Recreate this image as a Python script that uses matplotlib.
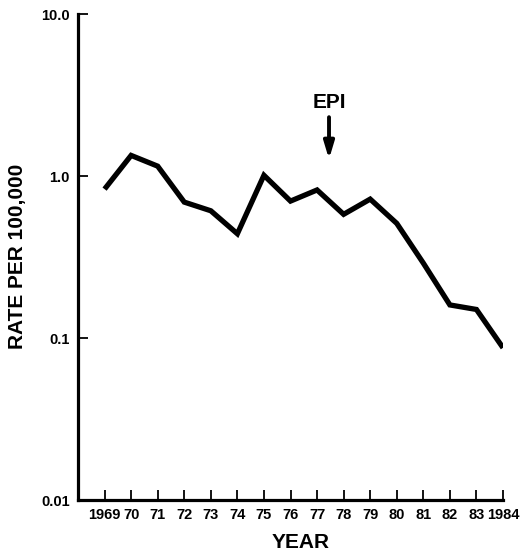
import matplotlib
matplotlib.use("Agg")
import matplotlib.pyplot as plt

years = [1969, 1970, 1971, 1972, 1973, 1974, 1975, 1976, 1977, 1978, 1979, 1980, 1981, 1982, 1983, 1984]
rates = [0.83, 1.34, 1.15, 0.69, 0.61, 0.44, 1.01, 0.70, 0.82, 0.58, 0.72, 0.51, 0.29, 0.16, 0.15, 0.087]
xtick_labels = ["1969", "70", "71", "72", "73", "74", "75", "76", "77", "78", "79", "80", "81", "82", "83", "1984"]
ytick_values = [0.01, 0.1, 1.0, 10.0]
ytick_labels = ["0.01", "0.1", "1.0", "10.0"]
epi_year = 1977.45

plt.rcParams['font.family'] = ['Liberation Sans', 'DejaVu Sans']
plt.rcParams['font.weight'] = 'bold'

fig = plt.figure(figsize=(5.23, 5.57), dpi=100)
W, H = 523, 557
ax = fig.add_axes([78 / W, 1 - 500 / H, (503 - 78) / W, (500 - 14) / H])

ax.plot(years, rates, color='black', lw=3.8, solid_joinstyle='miter', solid_capstyle='butt')

ax.set_yscale('log')
ax.set_ylim(0.01, 10)
ax.set_xlim(1968, 1984)
ax.minorticks_off()

ax.tick_params(axis='both', direction='in', length=7, width=1.3, color='black', pad=6)
ax.set_yticks(ytick_values)
ax.set_yticklabels(ytick_labels, fontsize=10.5, fontweight='bold')
ax.set_xticks(years)
ax.set_xticklabels(xtick_labels, fontsize=10.5, fontweight='bold')

for s in ['top', 'right']:
    ax.spines[s].set_visible(False)
for s in ['left', 'bottom']:
    ax.spines[s].set_linewidth(2.3)
    ax.spines[s].set_color('black')

fig.text(301 / W, 1 - 543 / H, 'YEAR', ha='center', va='center', fontsize=15, fontweight='bold')
fig.text(18 / W, 1 - 256 / H, 'RATE PER 100,000', ha='center', va='center', rotation=90,
         fontsize=15, fontweight='bold')

ax.annotate('', xy=(epi_year, 1.22), xytext=(epi_year, 2.4),
            arrowprops=dict(arrowstyle='-|>,head_length=1.0,head_width=0.3', color='black', lw=2.8))
ax.text(epi_year, 2.85, 'EPI', ha='center', va='center', fontsize=15, fontweight='bold')

fig.savefig('out.png', dpi=100, facecolor='white')
